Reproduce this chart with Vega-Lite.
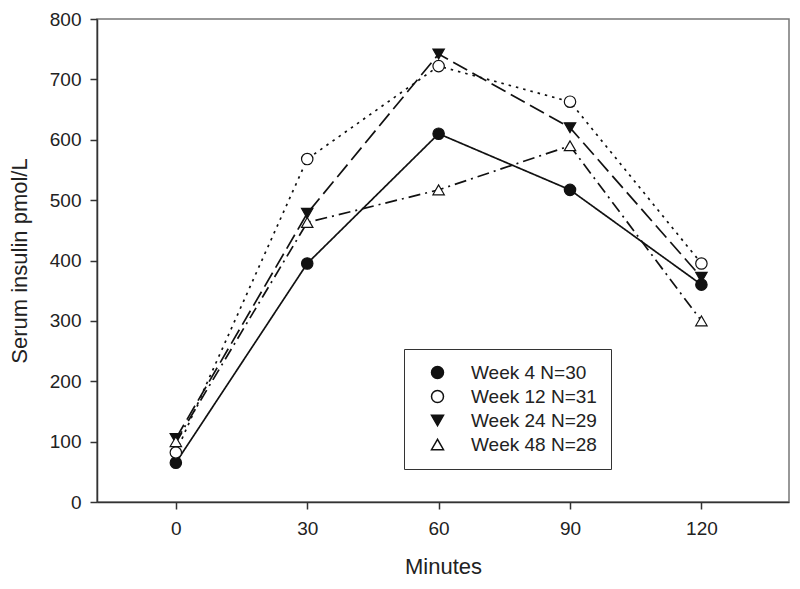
{
  "$schema": "https://vega.github.io/schema/vega-lite/v6.json",
  "autosize": "none",
  "padding": {"left": 97, "top": 19, "right": 11, "bottom": 87},
  "width": 692,
  "height": 483,
  "background": "white",
  "config": {
    "font": "Liberation Sans",
    "view": {"stroke": "#777777", "strokeWidth": 1.5}
  },
  "data": {"values": [
    {"series": "Week 4 N=30", "min": 0, "v": 65},
    {"series": "Week 4 N=30", "min": 30, "v": 395},
    {"series": "Week 4 N=30", "min": 60, "v": 610},
    {"series": "Week 4 N=30", "min": 90, "v": 517},
    {"series": "Week 4 N=30", "min": 120, "v": 360},
    {"series": "Week 12 N=31", "min": 0, "v": 82},
    {"series": "Week 12 N=31", "min": 30, "v": 568},
    {"series": "Week 12 N=31", "min": 60, "v": 722},
    {"series": "Week 12 N=31", "min": 90, "v": 663},
    {"series": "Week 12 N=31", "min": 120, "v": 395},
    {"series": "Week 24 N=29", "min": 0, "v": 105},
    {"series": "Week 24 N=29", "min": 30, "v": 478},
    {"series": "Week 24 N=29", "min": 60, "v": 742},
    {"series": "Week 24 N=29", "min": 90, "v": 620},
    {"series": "Week 24 N=29", "min": 120, "v": 372},
    {"series": "Week 48 N=28", "min": 0, "v": 100},
    {"series": "Week 48 N=28", "min": 30, "v": 463},
    {"series": "Week 48 N=28", "min": 60, "v": 517},
    {"series": "Week 48 N=28", "min": 90, "v": 590},
    {"series": "Week 48 N=28", "min": 120, "v": 300}
  ]},
  "encoding": {
    "x": {"field": "min", "type": "quantitative", "scale": {"domain": [-18, 140], "nice": false, "zero": false},
      "axis": {"values": [0, 30, 60, 90, 120], "title": "Minutes", "titlePadding": 18, "labelPadding": 10, "grid": false,
        "labelFontSize": 19, "titleFontSize": 22, "titleFontWeight": "normal", "tickSize": 7, "domainColor": "#333333", "tickColor": "#333333", "domainWidth": 1.5, "tickWidth": 1.5, "labelColor": "#222222", "titleColor": "#222222"}},
    "y": {"field": "v", "type": "quantitative", "scale": {"domain": [0, 800], "nice": false},
      "axis": {"values": [0, 100, 200, 300, 400, 500, 600, 700, 800], "title": "Serum insulin pmol/L", "titlePadding": 18, "labelPadding": 9, "grid": false,
        "labelFontSize": 19, "titleFontSize": 22, "titleFontWeight": "normal", "tickSize": 7, "domainColor": "#333333", "tickColor": "#333333", "domainWidth": 1.5, "tickWidth": 1.5, "labelColor": "#222222", "titleColor": "#222222"}}
  },
  "resolve": {"legend": {"strokeDash": "independent"}, "scale": {"strokeDash": "independent"}},
  "layer": [
    {
      "mark": {"type": "line", "color": "#111111", "strokeWidth": 1.7},
      "encoding": {
        "detail": {"field": "series"},
        "strokeDash": {"field": "series", "type": "nominal", "legend": null,
          "scale": {"domain": ["Week 4 N=30", "Week 12 N=31", "Week 24 N=29", "Week 48 N=28"],
            "range": [[1, 0], [2.5, 5], [16, 6], [12, 5, 2, 5]]}}
      }
    },
    {
      "mark": {"type": "point", "filled": true, "stroke": "#111111", "strokeWidth": 1.2, "size": 130, "opacity": 1},
      "encoding": {
        "shape": {"field": "series", "type": "nominal", "title": null,
          "scale": {"domain": ["Week 4 N=30", "Week 12 N=31", "Week 24 N=29", "Week 48 N=28"],
            "range": ["circle", "circle", "triangle-down", "triangle-up"]},
          "legend": {"orient": "none", "legendX": 307, "legendY": 330, "strokeColor": "#333333", "padding": 14,
            "labelFontSize": 19, "labelColor": "#222222", "symbolSize": 144, "symbolOffset": 10, "labelOffset": 24, "rowPadding": 4}},
        "fill": {"field": "series", "type": "nominal", "title": null,
          "scale": {"domain": ["Week 4 N=30", "Week 12 N=31", "Week 24 N=29", "Week 48 N=28"],
            "range": ["#111111", "white", "#111111", "white"]}}
      }
    }
  ]
}
